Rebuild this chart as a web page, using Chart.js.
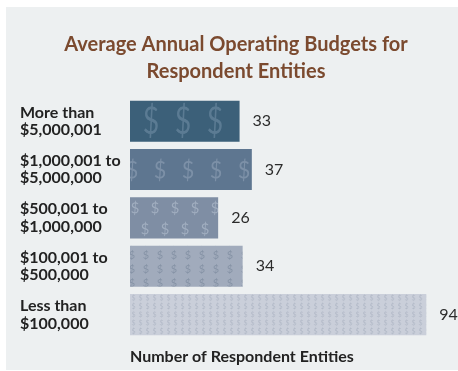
<!DOCTYPE html>
<html>
<head>
<meta charset="utf-8">
<script src="https://cdn.jsdelivr.net/npm/chart.js@4.4.1/dist/chart.umd.min.js"></script>
<style>
  html, body { margin: 0; padding: 0; background: #ffffff; }
  #wrap { width: 458px; height: 371px; }
</style>
</head>
<body>
<div id="wrap"><canvas id="budgetChart"></canvas></div>
<script>
// Budget brackets (top to bottom) and number of entities in each
const categories = [
    ["More than", "$5,000,001"],
    ["$1,000,001 to", "$5,000,000"],
    ["$500,001 to", "$1,000,000"],
    ["$100,001 to", "$500,000"],
    ["Less than", "$100,000"]
];
const counts = [33, 37, 26, 34, 94];
const barColors = ["#3c6079", "#5e7690", "#7f8ea4", "#a1abbc", "#cacfda"];
const dollarColors = ["#5b7b93", "#7c90a7", "#a0adbf", "#8794a7", "#b3bac8"];

// tile size, font size, horizontal squeeze and dollar positions inside each tile
const patternSpecs = [
    { w: 32, h: 41, size: 38, sx: 0.75, spots: [[21, 20.5]] },
    { w: 28, h: 68, size: 24, sx: 0.9, spots: [[2, 22], [16, 56]] },
    { w: 20, h: 42, size: 15, sx: 1, spots: [[5, 11], [15, 32]] },
    { w: 14, h: 14, size: 11, sx: 1, spots: [[2, 9.7]] },
    { w: 7, h: 8.3, size: 7, sx: 1, spots: [[3.5, 4]] }
];

function makePattern(bg, fg, spec) {
    const tile = document.createElement("canvas");
    tile.width = Math.round(spec.w * 2);
    tile.height = Math.round(spec.h * 2);
    const c = tile.getContext("2d");
    c.scale(tile.width / spec.w, tile.height / spec.h);
    c.fillStyle = bg;
    c.fillRect(0, 0, spec.w, spec.h);
    c.fillStyle = fg;
    c.font = spec.size + "px Lato";
    c.textAlign = "center";
    c.textBaseline = "middle";
    // draw shifted copies too so glyphs wrap across tile edges
    spec.spots.forEach(p => {
        [-1, 0, 1].forEach(dx => [-1, 0, 1].forEach(dy => {
            c.save();
            c.translate(p[0] + dx * spec.w, p[1] + dy * spec.h);
            c.scale(spec.sx, 1);
            c.fillText("$", 0, 0);
            c.restore();
        }));
    });
    const pat = c.createPattern(tile, "repeat");
    pat.tileScale = [spec.w / tile.width, spec.h / tile.height];
    return pat;
}

const patterns = counts.map((v, i) => makePattern(barColors[i], dollarColors[i], patternSpecs[i]));

// panel background
const panelPlugin = {
    id: "panel",
    beforeDraw(chart) {
        const ctx = chart.ctx;
        ctx.save();
        ctx.fillStyle = "#edf0f1";
        ctx.fillRect(6, 7, chart.width - 6, chart.height - 8);
        ctx.restore();
    }
};

// anchor each dollar pattern to its own bar
const patternAnchor = {
    id: "patternAnchor",
    beforeDatasetsDraw(chart) {
        const meta = chart.getDatasetMeta(0);
        meta.data.forEach((bar, i) => {
            const p = patterns[i];
            const top = bar.y - bar.height / 2;
            p.setTransform(new DOMMatrix().translate(bar.base, top).scale(p.tileScale[0], p.tileScale[1]));
        });
    }
};

// value labels after each bar
const valueLabels = {
    id: "valueLabels",
    afterDatasetsDraw(chart) {
        const ctx = chart.ctx;
        const meta = chart.getDatasetMeta(0);
        ctx.save();
        ctx.fillStyle = "#2b2b2b";
        ctx.font = "16px Lato";
        ctx.textBaseline = "middle";
        meta.data.forEach((bar, i) => {
            ctx.fillText(counts[i], bar.x + 13, bar.y);
        });
        ctx.restore();
    }
};

new Chart(document.getElementById("budgetChart"), {
    type: "bar",
    data: {
        labels: categories,
        datasets: [{
            label: "Number of Respondent Entities",
            data: counts,
            base: -2.8,
            backgroundColor: patterns,
            borderWidth: 0,
            barPercentage: 0.85,
            categoryPercentage: 1
        }]
    },
    options: {
        indexAxis: "y",
        responsive: true,
        maintainAspectRatio: false,
        animation: false,
        layout: { padding: { top: 7, left: 20, right: 6, bottom: 5 } },
        plugins: {
            legend: { display: false },
            tooltip: { enabled: false },
            title: {
                display: true,
                text: ["Average Annual Operating Budgets for", "Respondent Entities"],
                color: "#7b4a2f",
                font: { family: "Lato", size: 20, weight: "bold", lineHeight: 1.35 },
                padding: { top: 24, bottom: 12 }
            }
        },
        scales: {
            x: {
                min: -2.8,
                max: 102.4,
                grid: { display: false },
                border: { display: false },
                ticks: { display: false },
                title: {
                    display: true,
                    text: "Number of Respondent Entities",
                    align: "start",
                    color: "#222222",
                    font: { family: "Lato", size: 16, weight: "bold" },
                    padding: { top: 0, bottom: 0 }
                }
            },
            y: {
                grid: { display: false },
                border: { display: false },
                afterFit(scale) { scale.width = 110; },
                ticks: {
                    crossAlign: "far",
                    color: "#222222",
                    padding: 0,
                    font: { family: "Lato", size: 16, weight: "bold", lineHeight: 1.1 }
                }
            }
        }
    },
    plugins: [panelPlugin, patternAnchor, valueLabels]
});
</script>
</body>
</html>
